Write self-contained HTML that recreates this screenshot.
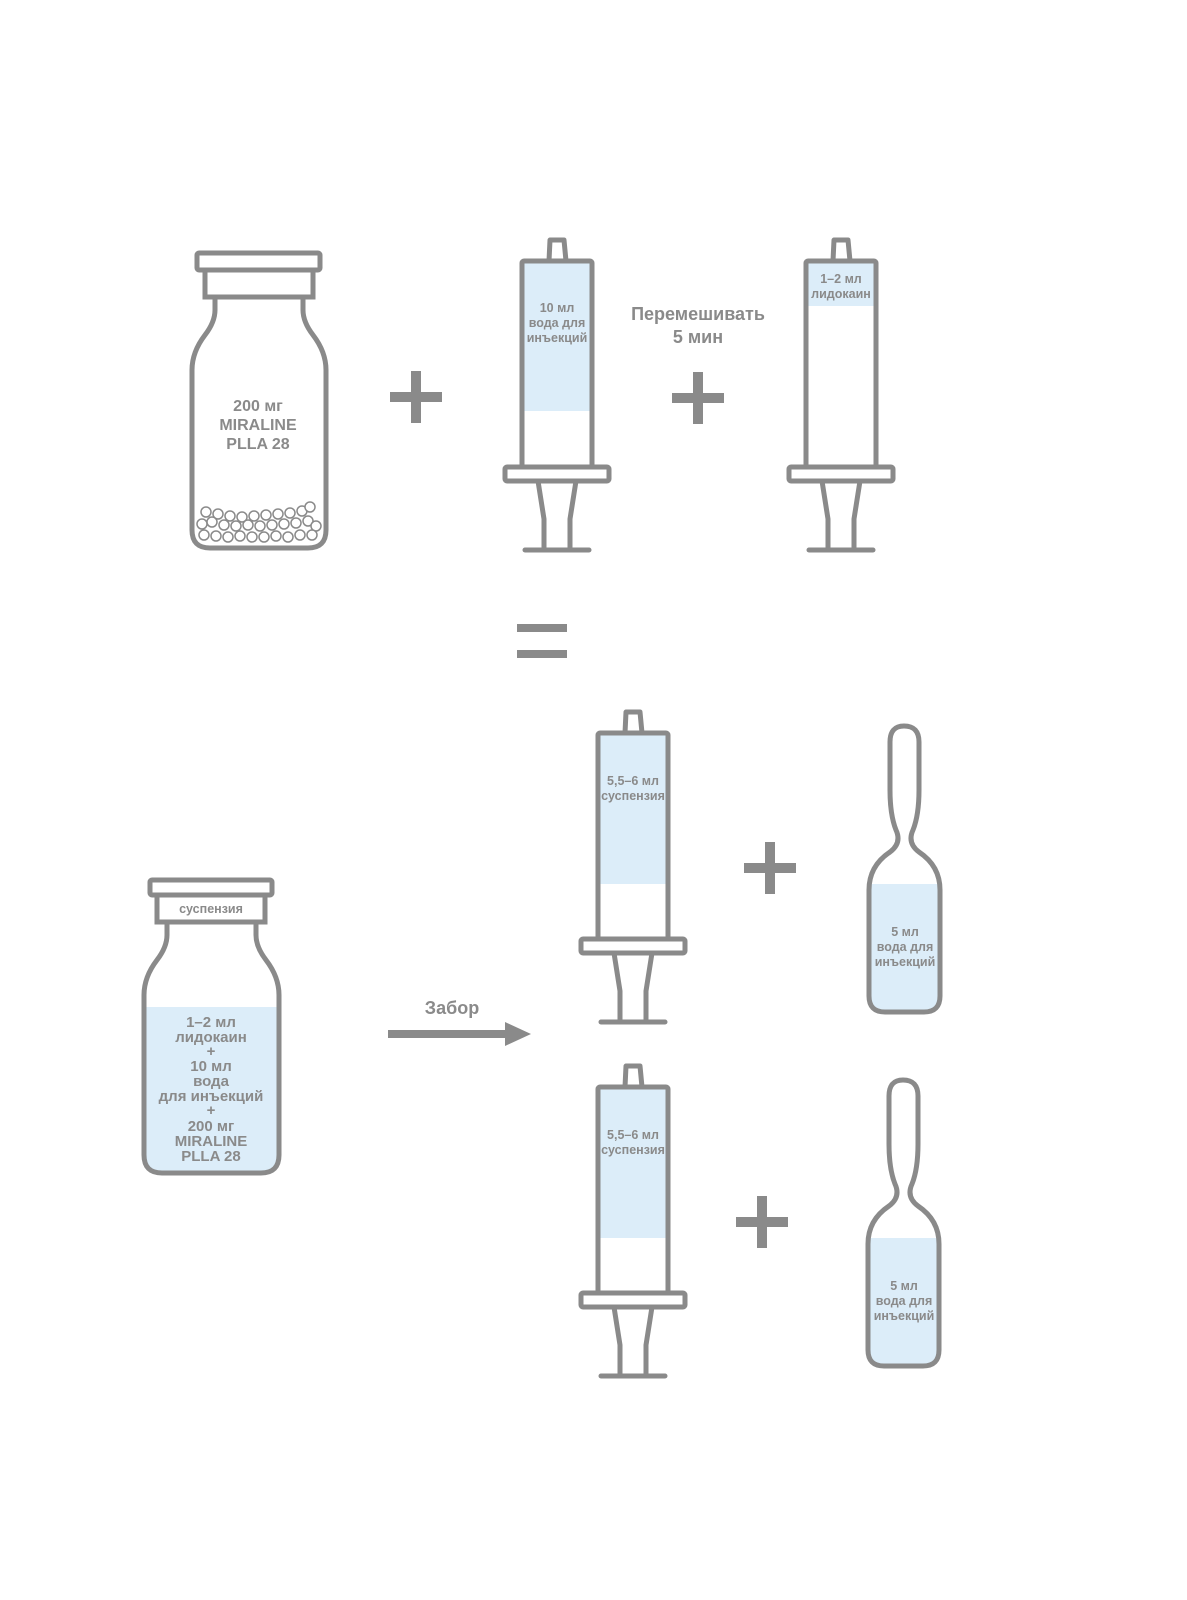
<!DOCTYPE html>
<html><head><meta charset="utf-8"><style>
html,body{margin:0;padding:0;background:#fff;overflow:hidden;width:1187px;height:1600px}
svg{display:block}
text{font-family:"Liberation Sans","DejaVu Sans",sans-serif;fill:#8a8a8a;text-anchor:middle;font-weight:bold}
</style></head><body>
<svg width="1187" height="1600" viewBox="0 0 1187 1600" xmlns="http://www.w3.org/2000/svg">
<defs>
<g id="syr" fill="none" stroke="#8a8a8a" stroke-width="5" stroke-linejoin="round" stroke-linecap="round">
<path d="M27 0 L28 -21 H42 L44 0"/>
<rect x="0" y="0" width="70" height="206" rx="2"/>
<rect x="-17" y="206" width="104" height="14" rx="2" fill="#fff"/>
<path d="M16 220 L22 258 V289 M54 220 L48 258 V289"/>
<path d="M3 289 H67"/>
</g>
</defs>

<path d="M215 297 V310 Q215 322 205 335 Q192 352 192 370 V530 Q192 548 210 548 H308 Q326 548 326 530 V370 Q326 352 313 335 Q303 322 303 310 V297" fill="none" stroke="#8a8a8a" stroke-width="5"/>
<rect x="205" y="270" width="108" height="27" fill="none" stroke="#8a8a8a" stroke-width="5"/>
<rect x="197" y="253" width="123" height="17" rx="2" fill="none" stroke="#8a8a8a" stroke-width="5"/>
<g fill="#fff" stroke="#8a8a8a" stroke-width="1.5">
<circle cx="206" cy="512" r="5"/><circle cx="218" cy="514" r="5"/><circle cx="230" cy="516" r="5"/><circle cx="242" cy="517" r="5"/><circle cx="254" cy="516" r="5"/><circle cx="266" cy="515" r="5"/><circle cx="278" cy="514" r="5"/><circle cx="290" cy="513" r="5"/><circle cx="302" cy="511" r="5"/><circle cx="310" cy="507" r="5"/>
<circle cx="202" cy="524" r="5"/><circle cx="212" cy="522" r="5"/><circle cx="224" cy="525" r="5"/><circle cx="236" cy="526" r="5"/><circle cx="248" cy="525" r="5"/><circle cx="260" cy="526" r="5"/><circle cx="272" cy="525" r="5"/><circle cx="284" cy="524" r="5"/><circle cx="296" cy="523" r="5"/><circle cx="308" cy="521" r="5"/><circle cx="316" cy="526" r="5"/>
<circle cx="204" cy="535" r="5"/><circle cx="216" cy="536" r="5"/><circle cx="228" cy="537" r="5"/><circle cx="240" cy="536" r="5"/><circle cx="252" cy="537" r="5"/><circle cx="264" cy="537" r="5"/><circle cx="276" cy="536" r="5"/><circle cx="288" cy="537" r="5"/><circle cx="300" cy="535" r="5"/><circle cx="312" cy="535" r="5"/>
</g>
<text x="258" y="411" font-size="16">200 мг</text>
<text x="258" y="430" font-size="16">MIRALINE</text>
<text x="258" y="449" font-size="16">PLLA 28</text>

<g fill="#8a8a8a">
<rect x="390" y="392" width="52" height="10"/><rect x="411" y="371" width="10" height="52"/>
<rect x="672" y="393" width="52" height="10"/><rect x="693" y="372" width="10" height="52"/>
<rect x="744" y="863" width="52" height="10"/><rect x="765" y="842" width="10" height="52"/>
<rect x="736" y="1217" width="52" height="10"/><rect x="757" y="1196" width="10" height="52"/>
<rect x="517" y="624" width="50" height="8"/><rect x="517" y="650" width="50" height="8"/>
</g>

<rect x="522" y="261" width="70" height="150" fill="#dcedf9"/>
<use href="#syr" x="522" y="261"/>
<text x="557" y="312" font-size="12.5">10 мл</text>
<text x="557" y="327" font-size="12.5">вода для</text>
<text x="557" y="342" font-size="12.5">инъекций</text>

<rect x="806" y="261" width="70" height="45" fill="#dcedf9"/>
<use href="#syr" x="806" y="261"/>
<text x="841" y="283" font-size="12.5">1–2 мл</text>
<text x="841" y="298" font-size="12.5">лидокаин</text>

<text x="698" y="320" font-size="18">Перемешивать</text>
<text x="698" y="343" font-size="18">5 мин</text>

<path d="M146 1007 H277 V1157 Q277 1173 261 1173 H162 Q146 1173 146 1157 Z" fill="#dcedf9"/>
<path d="M167 922 V935 Q167 947 157 960 Q144 977 144 995 V1155 Q144 1173 162 1173 H261 Q279 1173 279 1155 V995 Q279 977 266 960 Q256 947 256 935 V922" fill="none" stroke="#8a8a8a" stroke-width="5"/>
<rect x="157" y="895" width="108" height="27" fill="none" stroke="#8a8a8a" stroke-width="5"/>
<rect x="150" y="880" width="122" height="15" rx="2" fill="none" stroke="#8a8a8a" stroke-width="5"/>
<text x="211" y="913" font-size="12.5" font-weight="normal">суспензия</text>
<text x="211" y="1027" font-size="15">1–2 мл</text>
<text x="211" y="1042" font-size="15">лидокаин</text>
<text x="211" y="1056" font-size="15">+</text>
<text x="211" y="1071" font-size="15">10 мл</text>
<text x="211" y="1086" font-size="15">вода</text>
<text x="211" y="1101" font-size="15">для инъекций</text>
<text x="211" y="1115" font-size="15">+</text>
<text x="211" y="1131" font-size="15">200 мг</text>
<text x="211" y="1146" font-size="15">MIRALINE</text>
<text x="211" y="1161" font-size="15">PLLA 28</text>

<text x="452" y="1014" font-size="18">Забор</text>
<rect x="388" y="1030" width="122" height="8" fill="#8a8a8a"/>
<path d="M505 1022 L531 1034 L505 1046 Z" fill="#8a8a8a"/>

<rect x="598" y="733" width="70" height="151" fill="#dcedf9"/>
<use href="#syr" x="598" y="733"/>
<text x="633" y="785" font-size="12.5">5,5–6 мл</text>
<text x="633" y="800" font-size="12.5">суспензия</text>

<rect x="598" y="1087" width="70" height="151" fill="#dcedf9"/>
<use href="#syr" x="598" y="1087"/>
<text x="633" y="1139" font-size="12.5">5,5–6 мл</text>
<text x="633" y="1154" font-size="12.5">суспензия</text>

<g id="amp">
<path d="M871 884 H938 V996 Q938 1010 924 1010 H885 Q871 1010 871 996 Z" fill="#dcedf9"/>
<path d="M904 726 Q890 726 890 742 V790 Q890 815 896 830 Q902 843 890 852 Q869 866 869 890 V996 Q869 1012 885 1012 H924 Q940 1012 940 996 V890 Q940 866 919 852 Q907 843 913 830 Q919 815 919 790 V742 Q919 726 904 726 Z" fill="none" stroke="#8a8a8a" stroke-width="5" stroke-linejoin="round"/>
</g>
<text x="905" y="936" font-size="12.5">5 мл</text>
<text x="905" y="951" font-size="12.5">вода для</text>
<text x="905" y="966" font-size="12.5">инъекций</text>
<use href="#amp" y="354" x="-1"/>
<text x="904" y="1290" font-size="12.5">5 мл</text>
<text x="904" y="1305" font-size="12.5">вода для</text>
<text x="904" y="1320" font-size="12.5">инъекций</text>
</svg>
</body></html>
